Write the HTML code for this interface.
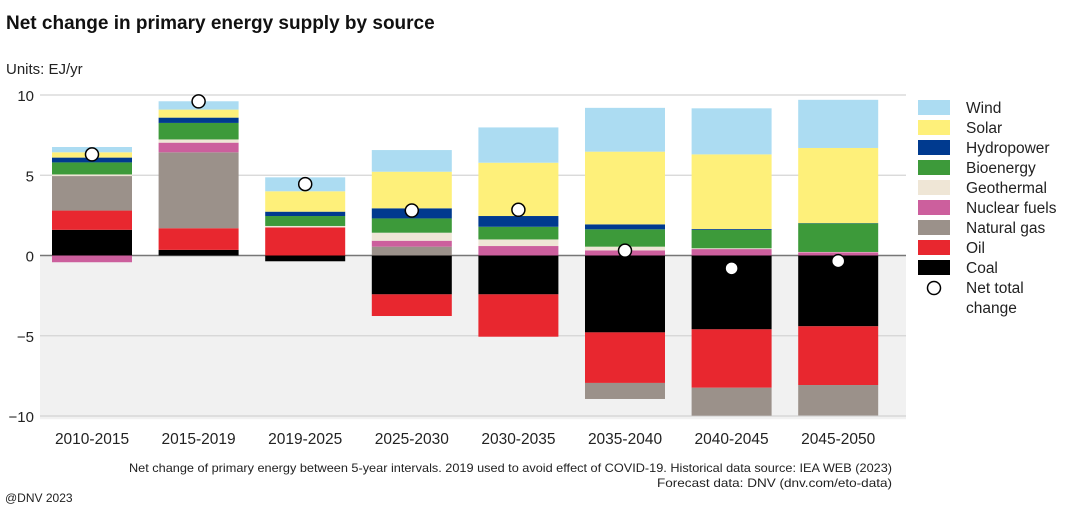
<!DOCTYPE html>
<html><head><meta charset="utf-8"><style>
body{margin:0;background:#fff;font-family:"Liberation Sans",sans-serif;}
svg text{font-family:"Liberation Sans",sans-serif;}
</style></head><body>
<svg id="chart" width="1080" height="517" xmlns="http://www.w3.org/2000/svg">
<text x="6" y="29" font-size="19" font-weight="bold" fill="#111">Net change in primary energy supply by source</text>
<text x="6" y="74" font-size="15" fill="#222">Units: EJ/yr</text>
<g id="plot"></g>
<g id="legend"></g>
<text x="892" y="472" font-size="12" text-anchor="end" fill="#222" textLength="763" lengthAdjust="spacingAndGlyphs">Net change of primary energy between 5-year intervals. 2019 used to avoid effect of COVID-19. Historical data source: IEA WEB (2023)</text>
<text x="892" y="487" font-size="12" text-anchor="end" fill="#222" textLength="235" lengthAdjust="spacingAndGlyphs">Forecast data: DNV (dnv.com/eto-data)</text>
<text x="5" y="502" font-size="12" fill="#222">@DNV 2023</text>
</svg>
<script>
const categories=["2010-2015","2015-2019","2019-2025","2025-2030","2030-2035","2035-2040","2040-2045","2045-2050"];
const sources=["Coal","Oil","Natural gas","Nuclear fuels","Geothermal","Bioenergy","Hydropower","Solar","Wind"];
const colors=["#000000","#e8272f","#9b918a","#cc5f9d","#efe6d6","#3d9a3a","#003a8f","#fef07a","#acdcf2"];
const coal=[1.6,0.35,-0.36,-2.42,-2.42,-4.79,-4.6,-4.41];
const oil=[1.2,1.35,1.75,-1.35,-2.64,-3.15,-3.64,-3.66];
const gas=[2.15,4.73,0,0.55,0,-1.0,-1.74,-1.9];
const nuclear=[-0.42,0.6,0,0.37,0.59,0.32,0.4,0.2];
const geothermal=[0.1,0.2,0.09,0.5,0.41,0.23,0.05,0.02];
const bioenergy=[0.75,1.03,0.62,0.89,0.79,1.08,1.15,1.78];
const hydropower=[0.3,0.33,0.27,0.63,0.67,0.31,0.05,0.02];
const solar=[0.33,0.5,1.27,2.28,3.32,4.53,4.65,4.68];
const wind=[0.33,0.52,0.87,1.35,2.2,2.73,2.87,3.0];
const netTotal=[6.3,9.6,4.45,2.8,2.85,0.3,-0.8,-0.35];
const yTicks=[10,5,0,-5,-10];
const series=[coal,oil,gas,nuclear,geothermal,bioenergy,hydropower,solar,wind];
const NS="http://www.w3.org/2000/svg";
const plot=document.getElementById('plot'),legend=document.getElementById('legend');
const x0=40,x1=906,firstC=92,step=106.6,bw=80;
const y=v=>255.5-v*16.05;
function mk(tag,attrs,parent){const e=document.createElementNS(NS,tag);for(const k in attrs)e.setAttribute(k,attrs[k]);parent.appendChild(e);return e;}
const bg=mk('rect',{x:x0,y:y(0),width:x1-x0,height:y(-10.2)-y(0),fill:'#f1f1f1'},plot);


yTicks.forEach(t=>{
 const l=mk('line',{x1:x0,x2:x1,y1:y(t),y2:y(t),stroke:t===0?'#777':'#d4d4d4','stroke-width':t===0?1.5:1.2},plot);
 
 
 const tx=mk('text',{x:34,y:y(t)+6,'font-size':15,'text-anchor':'end',fill:'#222'},plot);
 tx.textContent=t===0?'0':(t<0?'\u2212'+(-t):String(t));
 
 
});
categories.forEach((c,i)=>{
 const cx=firstC+step*i;let pos=0,neg=0;
 series.forEach((s,k)=>{
  const v=s[i];if(!v)return;let a,b;
  if(v>0){a=pos;b=pos+v;pos=b;}else{a=neg;b=neg+v;neg=b;}
  const r=mk('rect',{x:cx-bw/2,y:Math.min(y(a),y(b)),width:bw,height:Math.abs(y(b)-y(a)),fill:colors[k]},plot);
  
  
 });
 const d=mk('circle',{cx:cx,cy:y(netTotal[i]),r:6.5,fill:'#fff',stroke:'#000','stroke-width':1.5},plot);
 
 
 const t=mk('text',{x:cx,y:444,'font-size':15.5,'text-anchor':'middle',fill:'#222'},plot);
 t.textContent=c;
 
 
});
const legItems=sources.slice().reverse().map((s,i)=>[s,colors[8-i]]);
legItems.forEach(([s,col],i)=>{
 const yy=100+i*20;
 const r=mk('rect',{x:918,y:yy,width:32,height:15,fill:col},legend);
 
 
 const t=mk('text',{x:966,y:yy+13,'font-size':15.5,fill:'#222'},legend);
 t.textContent=s;
 
 
});
const lc=mk('circle',{cx:934,cy:288,r:6.5,fill:'#fff',stroke:'#000','stroke-width':1.5},legend);


const l1=mk('text',{x:966,y:293,'font-size':15.5,fill:'#222'},legend);l1.textContent='Net total';


const l2=mk('text',{x:966,y:313,'font-size':15.5,fill:'#222'},legend);l2.textContent='change';


</script>
</body></html>
